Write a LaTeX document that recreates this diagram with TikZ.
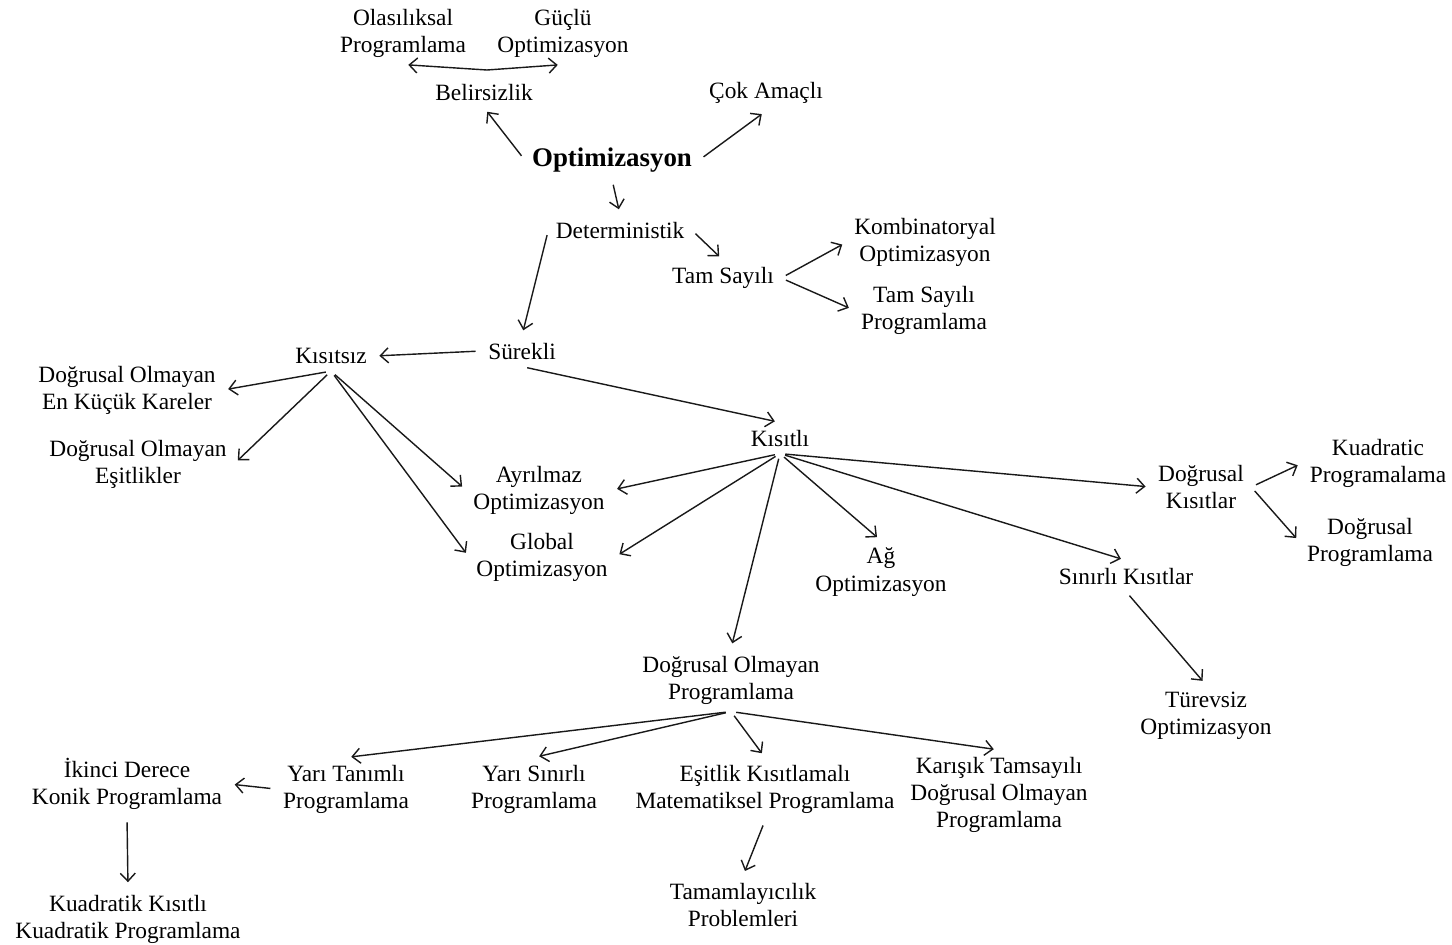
\documentclass[tikz,border=0pt]{standalone}
\usepackage{fontspec}
\setmainfont{Liberation Serif}
\usetikzlibrary{arrows.meta}

\begin{document}
\begin{tikzpicture}[x=0.02cm, y=-0.02cm, every node/.style={font=\fontsize{13.3}{15.4}\selectfont, align=center, inner sep=4pt}, >={Straight Barb[length=1.6mm, width=3mm]}, e/.style={->, line width=0.8pt, black!90, shorten >=3pt, shorten <=3pt}]
	\useasboundingbox (0,0) rectangle (1452,944);
	\node (ola) at (403,33) {Olasılıksal\\Programlama};
	\node (guc) at (563,33) {Güçlü\\Optimizasyon};
	\node (bel) at (484,92) {Belirsizlik};
	\node (cok) at (766,93) {Çok Amaçlı};
	\node[font=\fontsize{15.3}{17}\selectfont\bfseries] (opt) at (612,160) {Optimizasyon};
	\node (det) at (620,230) {Deterministik};
	\node (tam) at (723,278) {Tam Sayılı};
	\node (komb) at (925,242) {Kombinatoryal\\Optimizasyon};
	\node (tsp) at (924,310) {Tam Sayılı\\Programlama};
	\node (sur) at (522,351) {Sürekli};
	\node (ksz) at (331,356) {Kısıtsız};
	\node (ekk) at (127,390) {Doğrusal Olmayan\\En Küçük Kareler};
	\node (esit) at (138,464) {Doğrusal Olmayan\\Eşitlikler};
	\node (kst) at (780,438) {Kısıtlı};
	\node (ayr) at (539,490) {Ayrılmaz\\Optimizasyon};
	\node (glob) at (542,557) {Global\\Optimizasyon};
	\node (ag) at (881,572) {Ağ\\Optimizasyon};
	\node (dk) at (1201,487) {Doğrusal\\Kısıtlar};
	\node (kuad) at (1378,463) {Kuadratic\\Programalama};
	\node (dp) at (1370,542) {Doğrusal\\Programlama};
	\node (sin) at (1126,576) {Sınırlı Kısıtlar};
	\node (turev) at (1206,716) {Türevsiz\\Optimizasyon};
	\node (dop) at (731,680) {Doğrusal Olmayan\\Programlama};
	\node (ikinci) at (127,784) {İkinci Derece\\Konik Programlama};
	\node (yt) at (346,789) {Yarı Tanımlı\\Programlama};
	\node (ys) at (534,789) {Yarı Sınırlı\\Programlama};
	\node (ekm) at (765,789) {Eşitlik Kısıtlamalı\\Matematiksel Programlama};
	\node (kar) at (999,795) {Karışık Tamsayılı\\Doğrusal Olmayan\\Programlama};
	\node (tamp) at (743,905) {Tamamlayıcılık\\Problemleri};
	\node (kkp) at (128,919) {Kuadratik Kısıtlı\\Kuadratik Programlama};
	% belirsizlik
	\coordinate (belhub) at (487,70);
	\draw[e, shorten <=0pt] (belhub) -- (ola.south);
	\draw[e, shorten <=0pt] (belhub) -- (guc.south);
	\draw[e] (opt.west) -- (bel.south);
	\draw[e] (opt.east) -- (cok.south);
	\draw[e] (opt.south) -- (det.north);
	% deterministik
	\draw[e] (det.west) -- (sur.north);
	\draw[e] (det.east) -- (tam.north);
	\draw[e] (tam.east) -- (komb.west);
	\draw[e] (tam.east) -- (tsp.west);
	\draw[e] (sur.west) -- (ksz.east);
	\draw[e] (sur.south) -- (kst.north);
	% kisitsiz
	\draw[e] (ksz.south) -- (ekk.east);
	\draw[e] (ksz.south) -- (esit.east);
	\draw[e] (ksz.south) -- (ayr.west);
	\draw[e] (ksz.south) -- (glob.west);
	% kisitli
	\draw[e] (kst.south) -- (ayr.east);
	\draw[e] (kst.south) -- (glob.east);
	\draw[e] (kst.south) -- (dop.north);
	\draw[e] (kst.south) -- (ag.north);
	\draw[e] (kst.south) -- (sin.north);
	\draw[e] (kst.south) -- (dk.west);
	\draw[e] (dk.east) -- (kuad.west);
	\draw[e] (dk.east) -- (dp.west);
	\draw[e] (sin.south) -- (turev.north);
	% dogrusal olmayan programlama
	\draw[e] (dop.south) -- (yt.north);
	\draw[e] (dop.south) -- (ys.north);
	\draw[e] (dop.south) -- (ekm.north);
	\draw[e] (dop.south) -- (kar.north);
	\draw[e] (yt.west) -- (ikinci.east);
	\draw[e] (ikinci.south) -- (kkp.north);
	\draw[e] (ekm.south) -- (tamp.north);
\end{tikzpicture}
\end{document}
